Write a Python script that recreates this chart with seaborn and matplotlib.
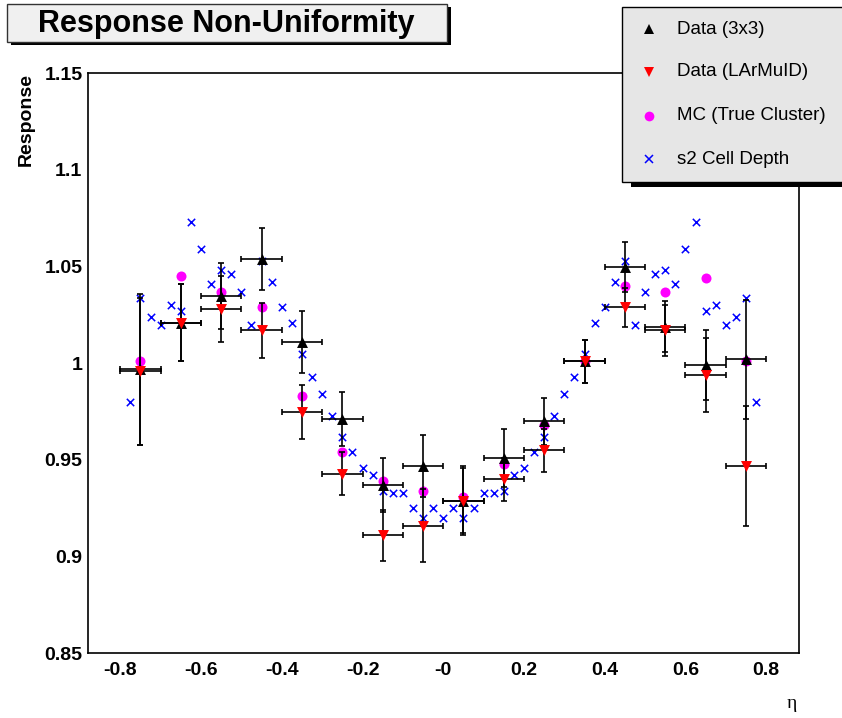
import matplotlib
matplotlib.use("Agg")
import matplotlib.pyplot as plt
import seaborn as sns
import pandas as pd
from matplotlib.patches import Rectangle

# eta bins (width 0.1) for the data / MC points
eta = [-0.75, -0.65, -0.55, -0.45, -0.35, -0.25, -0.15, -0.05,
       0.05, 0.15, 0.25, 0.35, 0.45, 0.55, 0.65, 0.75]
eta_halfwidth = 0.05

resp_3x3 = [0.997, 1.021, 1.035, 1.054, 1.011, 0.971, 0.937, 0.947,
            0.929, 0.951, 0.970, 1.001, 1.050, 1.019, 0.999, 1.002]
err_3x3 = [0.039, 0.020, 0.017, 0.016, 0.016, 0.014, 0.014, 0.016,
           0.017, 0.015, 0.012, 0.011, 0.013, 0.013, 0.018, 0.031]

resp_larmuid = [0.996, 1.021, 1.028, 1.017, 0.975, 0.943, 0.911, 0.916,
                0.929, 0.940, 0.955, 1.001, 1.029, 1.017, 0.994, 0.947]
err_larmuid = [0.038, 0.020, 0.017, 0.014, 0.014, 0.011, 0.013, 0.019,
               0.018, 0.011, 0.011, 0.011, 0.010, 0.013, 0.019, 0.031]

resp_mc = [1.001, 1.045, 1.037, 1.029, 0.983, 0.954, 0.939, 0.934,
           0.931, 0.948, 0.968, 1.001, 1.040, 1.037, 1.044, 1.001]

# s2 cell depth, finer binning (0.025)
eta_s2 = [-0.775, -0.75, -0.725, -0.7, -0.675, -0.65, -0.625, -0.6, -0.575, -0.55,
          -0.525, -0.5, -0.475, -0.45, -0.425, -0.4, -0.375, -0.35, -0.325, -0.3,
          -0.275, -0.25, -0.225, -0.2, -0.175, -0.15, -0.125, -0.1, -0.075, -0.05,
          -0.025, 0.0, 0.025, 0.05, 0.075, 0.1, 0.125, 0.15, 0.175, 0.2,
          0.225, 0.25, 0.275, 0.3, 0.325, 0.35, 0.375, 0.4, 0.425, 0.45,
          0.475, 0.5, 0.525, 0.55, 0.575, 0.6, 0.625, 0.65, 0.675, 0.7,
          0.725, 0.75, 0.775]
resp_s2 = [0.980, 1.034, 1.024, 1.020, 1.030, 1.027, 1.073, 1.059, 1.041, 1.048,
           1.046, 1.037, 1.020, 1.053, 1.042, 1.029, 1.021, 1.005, 0.993, 0.984,
           0.973, 0.962, 0.954, 0.946, 0.942, 0.934, 0.933, 0.933, 0.925, 0.920,
           0.925, 0.920, 0.925, 0.920, 0.925, 0.933, 0.933, 0.934, 0.942, 0.946,
           0.954, 0.962, 0.973, 0.984, 0.993, 1.005, 1.021, 1.029, 1.042, 1.053,
           1.020, 1.037, 1.046, 1.048, 1.041, 1.059, 1.073, 1.027, 1.030, 1.020,
           1.024, 1.034, 0.980]

x_ticks = [-0.8, -0.6, -0.4, -0.2, 0.0, 0.2, 0.4, 0.6, 0.8]
x_tick_labels = ["-0.8", "-0.6", "-0.4", "-0.2", "-0", "0.2", "0.4", "0.6", "0.8"]
y_ticks = [0.85, 0.9, 0.95, 1.0, 1.05, 1.1, 1.15]
y_tick_labels = ["0.85", "0.9", "0.95", "1", "1.05", "1.1", "1.15"]

legend_labels = ["Data (3x3)", "Data (LArMuID)", "MC (True Cluster)", "s2 Cell Depth"]

sns.set_theme(style="white")
plt.rcParams["font.family"] = ["Liberation Sans", "DejaVu Sans"]
plt.rcParams["text.color"] = "black"
plt.rcParams["axes.labelcolor"] = "black"
plt.rcParams["xtick.color"] = "black"
plt.rcParams["ytick.color"] = "black"

W, H = 842, 718
fig = plt.figure(figsize=(W / 100, H / 100), dpi=100)

# main axes placed in pixel terms
ax = fig.add_axes([88 / W, 1 - 653.3 / H, (799.3 - 88) / W, (653.3 - 73.3) / H])

df = pd.DataFrame({"eta": eta, "r3x3": resp_3x3, "rlar": resp_larmuid, "rmc": resp_mc})
df_s2 = pd.DataFrame({"eta": eta_s2, "resp": resp_s2})

sns.scatterplot(data=df_s2, x="eta", y="resp", marker="x", s=28, color="#0000ff",
                linewidth=1.1, ax=ax, zorder=2)
sns.scatterplot(data=df, x="eta", y="rmc", marker="o", s=52, color="#ff00ff",
                linewidth=0, ax=ax, zorder=3)
ax.errorbar(df["eta"], df["r3x3"], xerr=eta_halfwidth, yerr=err_3x3, fmt="none",
            ecolor="black", elinewidth=1.2, capsize=2.2, capthick=1.2, zorder=4)
sns.scatterplot(data=df, x="eta", y="r3x3", marker="^", s=62, color="black",
                linewidth=0, ax=ax, zorder=5)
ax.errorbar(df["eta"], df["rlar"], xerr=eta_halfwidth, yerr=err_larmuid, fmt="none",
            ecolor="black", elinewidth=1.2, capsize=2.2, capthick=1.2, zorder=4)
sns.scatterplot(data=df, x="eta", y="rlar", marker="v", s=62, color="#ff0000",
                linewidth=0, ax=ax, zorder=6)

ax.set_xlim(-0.88, 0.882)
ax.set_ylim(0.85, 1.15)
ax.set_xticks(x_ticks, labels=x_tick_labels)
ax.set_yticks(y_ticks, labels=y_tick_labels)
ax.set_xticks([v / 100 for v in range(-85, 90, 5)], minor=True)
ax.set_yticks([v / 100 for v in range(85, 116)], minor=True)
ax.tick_params(axis="both", which="both", direction="in", top=False, right=False,
               color="black", labelcolor="black", width=1.0, labelsize=14)
ax.tick_params(axis="x", which="major", length=12, pad=6)
ax.tick_params(axis="x", which="minor", length=6)
ax.tick_params(axis="y", which="major", length=14, pad=4)
ax.tick_params(axis="y", which="minor", length=8)
for lab in ax.get_xticklabels() + ax.get_yticklabels():
    lab.set_fontweight("bold")
for sp in ax.spines.values():
    sp.set_color("black")
    sp.set_linewidth(1.2)

ax.set_xlabel("")
ax.set_ylabel("Response", fontsize=14, fontweight="bold", loc="top", color="black")
ax.yaxis.set_label_coords(-0.0745, 1.0)

fig.text(797 / W, 1 - 708 / H, "η", ha="right", va="baseline", fontsize=14,
         color="black", family=["Liberation Serif", "DejaVu Serif"])

# overlay in pixel coordinates for title box and legend
ov = fig.add_axes([0, 0, 1, 1], zorder=10)
ov.set_xlim(0, W)
ov.set_ylim(H, 0)
ov.axis("off")
ov.patch.set_visible(False)

# title pave with shadow
ov.add_patch(Rectangle((11, 7), 440, 38, facecolor="black", edgecolor="none"))
ov.add_patch(Rectangle((7, 4), 440, 38, facecolor="#f0f0f0", edgecolor="#333333", linewidth=1))
ov.text(226, 24, "Response Non-Uniformity", ha="center", va="center", fontsize=22,
        fontweight="bold", color="black")

# legend pave with shadow
ov.add_patch(Rectangle((631, 12), 230, 175, facecolor="black", edgecolor="none"))
ov.add_patch(Rectangle((622, 7), 230, 175, facecolor="#e6e6e6", edgecolor="black", linewidth=1))
key_y = [29, 72, 116, 159]
key_style = [("^", "black", 7.2), ("v", "#ff0000", 7.2), ("o", "#ff00ff", 7.0), ("x", "#0000ff", 5.4)]
for yk, lab, (mk, col, ms) in zip(key_y, legend_labels, key_style):
    ov.plot([649], [yk], marker=mk, color=col, markersize=ms, linestyle="none",
            markeredgewidth=1.1 if mk == "x" else 0)
    ov.text(677, yk, lab, ha="left", va="center", fontsize=13.5, color="black")

fig.savefig("out.png", dpi=100)
